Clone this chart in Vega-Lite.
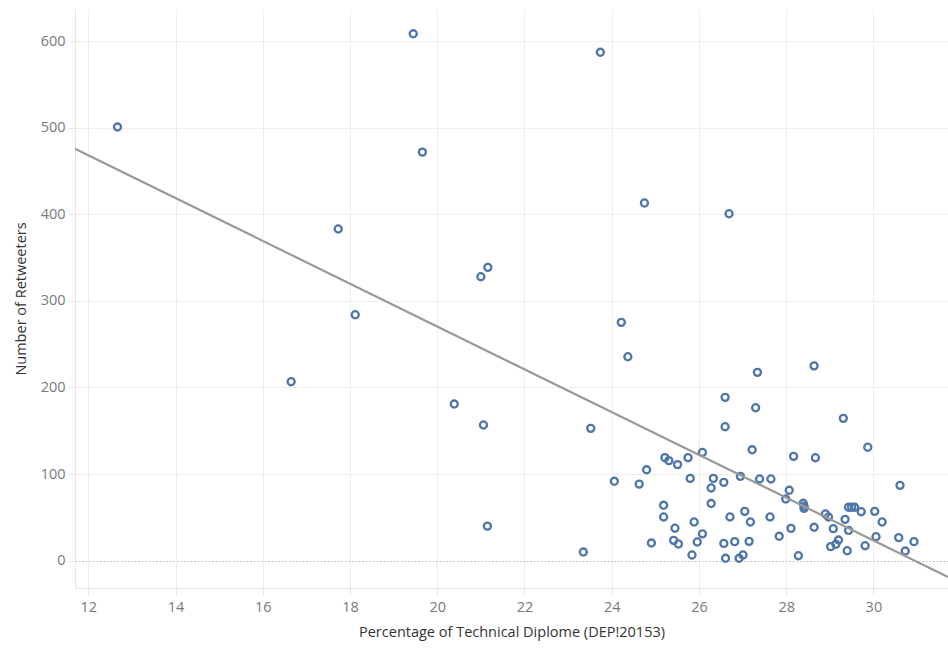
{
  "$schema": "https://vega.github.io/schema/vega-lite/v6.json",
  "autosize": "none",
  "width": 873,
  "height": 579,
  "padding": {"left": 75, "top": 9, "right": 0, "bottom": 64},
  "background": "white",
  "config": {
    "view": {"stroke": null},
    "font": "Open Sans",
    "axis": {
      "labelFont": "Open Sans",
      "titleFont": "Open Sans",
      "labelFontSize": 14.5,
      "labelColor": "#7a7a7a",
      "titleFontSize": 14.5,
      "titleFontWeight": "normal",
      "titleColor": "#333333",
      "domainColor": "#e6e6e6",
      "tickColor": "#e6e6e6",
      "tickSize": 7,
      "gridColor": "#eeeeee",
      "gridWidth": 1
    }
  },
  "data": {
    "values": [
      {"pct": 12.67, "rt": 500.7}, {"pct": 19.45, "rt": 608.4}, {"pct": 23.74, "rt": 587},
      {"pct": 19.66, "rt": 471.8}, {"pct": 17.73, "rt": 383}, {"pct": 18.12, "rt": 284},
      {"pct": 16.65, "rt": 206.7}, {"pct": 24.75, "rt": 413}, {"pct": 26.69, "rt": 400.6},
      {"pct": 21.0, "rt": 327.9}, {"pct": 21.16, "rt": 338.7}, {"pct": 24.22, "rt": 275.2},
      {"pct": 24.37, "rt": 235.5}, {"pct": 20.39, "rt": 180.9}, {"pct": 21.06, "rt": 156.7},
      {"pct": 21.15, "rt": 40}, {"pct": 23.35, "rt": 10}, {"pct": 23.52, "rt": 152.8},
      {"pct": 24.06, "rt": 91.7}, {"pct": 27.34, "rt": 217.5}, {"pct": 28.64, "rt": 225},
      {"pct": 26.6, "rt": 188.6}, {"pct": 27.3, "rt": 176.6}, {"pct": 26.6, "rt": 154.7},
      {"pct": 29.31, "rt": 164.4}, {"pct": 29.87, "rt": 131}, {"pct": 27.22, "rt": 128.1},
      {"pct": 28.17, "rt": 120.5}, {"pct": 28.67, "rt": 118.9}, {"pct": 30.61, "rt": 87},
      {"pct": 24.63, "rt": 88.5}, {"pct": 24.8, "rt": 105}, {"pct": 25.22, "rt": 119},
      {"pct": 25.31, "rt": 115.5}, {"pct": 25.51, "rt": 111}, {"pct": 25.75, "rt": 119},
      {"pct": 26.08, "rt": 125}, {"pct": 25.8, "rt": 95}, {"pct": 26.33, "rt": 95},
      {"pct": 26.28, "rt": 84}, {"pct": 26.28, "rt": 66}, {"pct": 25.19, "rt": 64},
      {"pct": 25.19, "rt": 50.5}, {"pct": 25.45, "rt": 37.5}, {"pct": 25.89, "rt": 44.7},
      {"pct": 26.08, "rt": 31}, {"pct": 25.42, "rt": 23.5}, {"pct": 25.53, "rt": 19.3},
      {"pct": 24.91, "rt": 20.4}, {"pct": 25.96, "rt": 21.6}, {"pct": 25.84, "rt": 6.6},
      {"pct": 26.57, "rt": 90.5}, {"pct": 26.95, "rt": 97.4}, {"pct": 27.39, "rt": 94.4},
      {"pct": 27.65, "rt": 94.4}, {"pct": 28.07, "rt": 81.3}, {"pct": 27.99, "rt": 71.2},
      {"pct": 28.39, "rt": 66.3}, {"pct": 28.41, "rt": 63}, {"pct": 28.41, "rt": 60.5},
      {"pct": 26.71, "rt": 50.5}, {"pct": 27.05, "rt": 57}, {"pct": 27.18, "rt": 44.7},
      {"pct": 27.63, "rt": 50.5}, {"pct": 26.57, "rt": 20}, {"pct": 26.82, "rt": 22},
      {"pct": 27.15, "rt": 22.4}, {"pct": 27.84, "rt": 28.2}, {"pct": 28.11, "rt": 37.4},
      {"pct": 28.64, "rt": 38.6}, {"pct": 26.61, "rt": 2.8}, {"pct": 26.92, "rt": 2.8},
      {"pct": 27.01, "rt": 6.6}, {"pct": 28.28, "rt": 5.8}, {"pct": 28.9, "rt": 54},
      {"pct": 28.97, "rt": 50.5}, {"pct": 29.43, "rt": 61.7}, {"pct": 29.5, "rt": 61.7},
      {"pct": 29.57, "rt": 61.7}, {"pct": 29.72, "rt": 56.6}, {"pct": 30.03, "rt": 57},
      {"pct": 30.2, "rt": 44.7}, {"pct": 29.35, "rt": 47.8}, {"pct": 29.08, "rt": 37},
      {"pct": 29.43, "rt": 35}, {"pct": 29.2, "rt": 23.9}, {"pct": 29.14, "rt": 19},
      {"pct": 29.02, "rt": 16.2}, {"pct": 29.4, "rt": 11.5}, {"pct": 29.81, "rt": 17.3},
      {"pct": 30.06, "rt": 27.7}, {"pct": 30.58, "rt": 26.6}, {"pct": 30.93, "rt": 22},
      {"pct": 30.73, "rt": 11.2}
    ]
  },
  "encoding": {
    "x": {
      "field": "pct",
      "type": "quantitative",
      "scale": {"domain": [11.695, 31.71], "nice": false, "zero": false},
      "axis": {
        "values": [12, 14, 16, 18, 20, 22, 24, 26, 28, 30],
        "title": "Percentage of Technical Diplome (DEP!20153)",
        "labelPadding": 5,
        "titlePadding": 12
      }
    },
    "y": {
      "field": "rt",
      "type": "quantitative",
      "scale": {"domain": [-31.5, 637], "nice": false, "zero": false},
      "axis": {
        "values": [0, 100, 200, 300, 400, 500, 600],
        "title": "Number of Retweeters",
        "labelPadding": 3,
        "titlePadding": 12,
        "gridColor": {"condition": {"test": "datum.value === 0", "value": "#b8b8b8"}, "value": "#eeeeee"},
        "gridDash": {"condition": {"test": "datum.value === 0", "value": [1.5, 2]}, "value": []}
      }
    }
  },
  "layer": [
    {
      "mark": {"type": "point", "filled": false, "shape": "circle", "size": 50, "strokeWidth": 2.3, "color": "#4e76a8", "opacity": 1}
    },
    {
      "transform": [{"regression": "rt", "on": "pct", "extent": [11.695, 31.71]}],
      "mark": {"type": "line", "color": "#999999", "strokeWidth": 2.2, "clip": true}
    }
  ]
}
